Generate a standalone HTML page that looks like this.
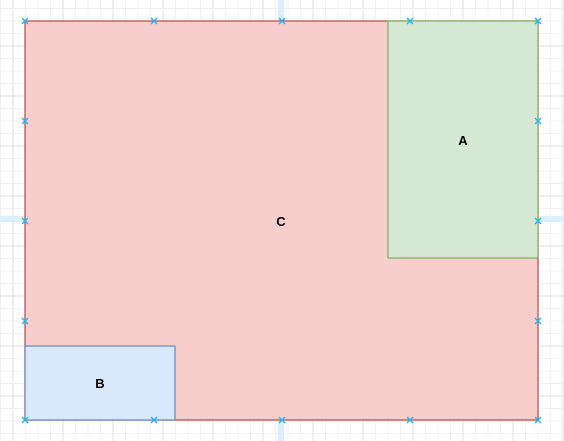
<!DOCTYPE html>
<html><head><meta charset="utf-8"><style>
html,body{margin:0;padding:0;background:#fff;width:564px;height:441px;overflow:hidden;}
svg{display:block;}
text{font-family:"Liberation Sans",sans-serif;font-weight:bold;font-size:13px;fill:#000;}
</style></head><body>
<svg id="s" width="564" height="441" viewBox="0 0 564 441">
<g id="grid"></g>
<rect x="278" y="0" width="6" height="441" fill="#dceffc"/>
<rect x="0" y="216" width="564" height="6" fill="#dceffc"/>
<rect x="25" y="21" width="513" height="399" fill="#f8cecc" stroke="#b85450" stroke-width="1.3"/>
<rect x="388" y="21" width="150" height="237" fill="#d5e8d4" stroke="#82b366" stroke-width="1.3"/>
<rect x="25" y="346" width="150" height="74" fill="#dae8fc" stroke="#6c8ebf" stroke-width="1.3"/>
<text x="281" y="226" text-anchor="middle">C</text>
<text x="463" y="145" text-anchor="middle">A</text>
<text x="100" y="388" text-anchor="middle">B</text>
<g id="marks"></g>
</svg>
<script>
var ns="http://www.w3.org/2000/svg";
var g=document.getElementById('grid');
function ln(x1,y1,x2,y2,c){var l=document.createElementNS(ns,'line');l.setAttribute('x1',x1);l.setAttribute('y1',y1);l.setAttribute('x2',x2);l.setAttribute('y2',y2);l.setAttribute('stroke',c);l.setAttribute('stroke-width',1);


g.appendChild(l);}
for(var i=-1;i<47;i++){var x=13+i*12.5;var maj=(((i%4)+4)%4===0);ln(x,0,x,441,maj?'#dcdcdc':'#f0f0f0');}
for(var j=0;j<37;j++){var y=-4+j*12.5;var maj2=(j%4===0);ln(0,y,564,y,maj2?'#dcdcdc':'#f0f0f0');}
var m=document.getElementById('marks');
var pts=[];
[25,154,282,410,538].forEach(function(x){pts.push([x,21]);pts.push([x,420]);});
[121,221,321].forEach(function(y){pts.push([25,y]);pts.push([538,y]);});
pts.forEach(function(p){
 var t=document.createElementNS(ns,'path');
 t.setAttribute('d','M'+(p[0]-3)+' '+(p[1]-3)+'L'+(p[0]+3)+' '+(p[1]+3)+'M'+(p[0]+3)+' '+(p[1]-3)+'L'+(p[0]-3)+' '+(p[1]+3));
 t.setAttribute('stroke','#29b6f2');t.setAttribute('stroke-width','1.5');
 
 
 m.appendChild(t);
});
</script>
</body></html>
